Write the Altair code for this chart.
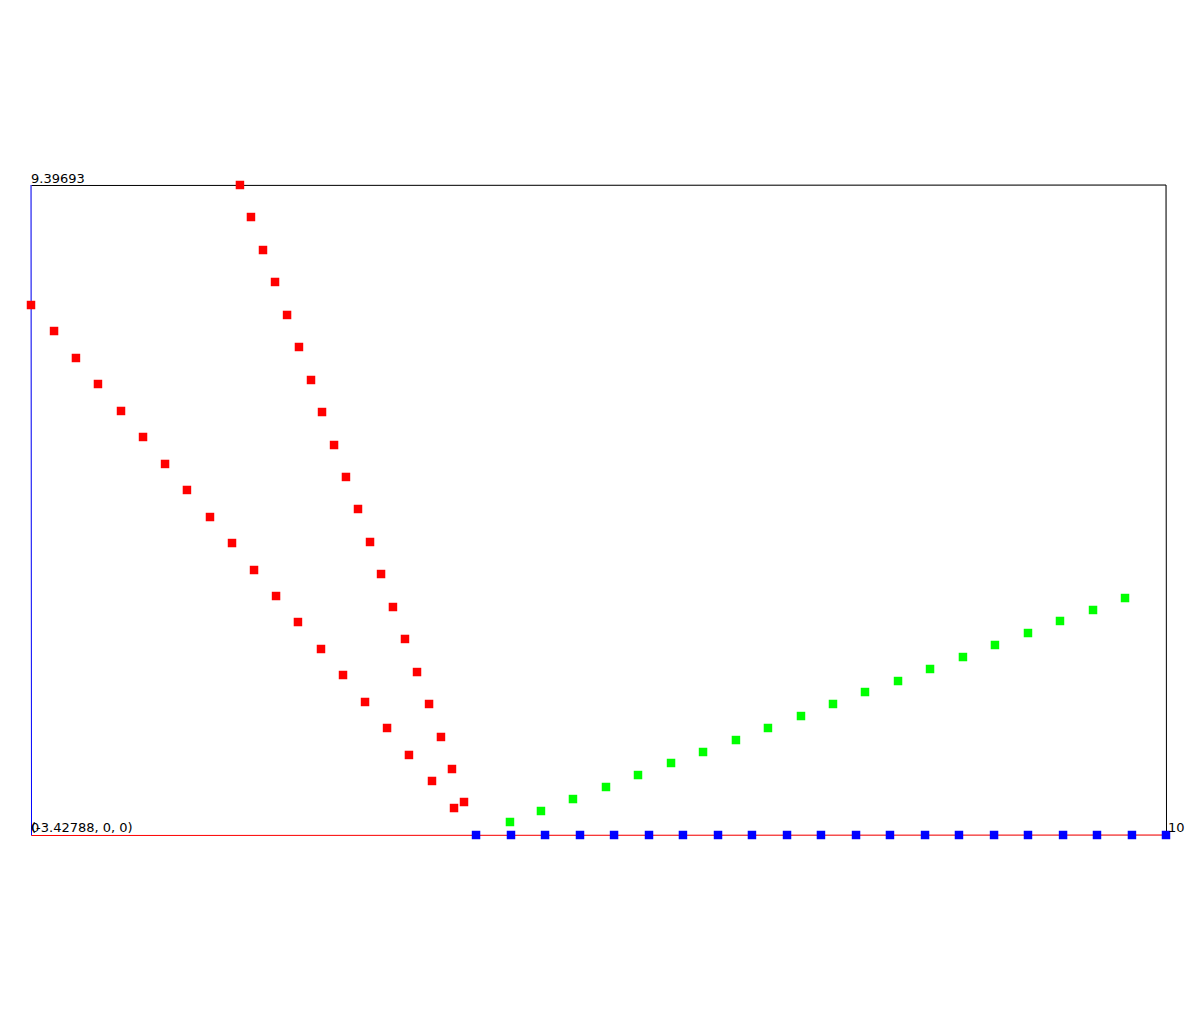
import altair as alt
import pandas as pd

X_MIN, X_MAX = 0.0, 10.0
Y_MIN, Y_MAX = 0.0, 9.39693

red1_x = [0.000, 0.203, 0.396, 0.590, 0.793, 0.987, 1.181, 1.374, 1.577, 1.771,
          1.965, 2.159, 2.352, 2.555, 2.749, 2.943, 3.137, 3.330, 3.533, 3.727]
red1_y = [7.662, 7.286, 6.896, 6.520, 6.130, 5.754, 5.364, 4.988, 4.597, 4.221,
          3.831, 3.455, 3.079, 2.689, 2.313, 1.923, 1.547, 1.157, 0.781, 0.390]

red2_x = [1.841, 1.938, 2.044, 2.150, 2.256, 2.361, 2.467, 2.564, 2.670, 2.775,
          2.881, 2.987, 3.084, 3.189, 3.295, 3.401, 3.507, 3.612, 3.709, 3.815]
red2_y = [9.397, 8.934, 8.457, 7.995, 7.518, 7.055, 6.578, 6.115, 5.638, 5.176,
          4.713, 4.236, 3.773, 3.296, 2.834, 2.356, 1.894, 1.417, 0.954, 0.477]

green_x = [4.220, 4.493, 4.775, 5.066, 5.348, 5.639, 5.921, 6.211, 6.493, 6.784,
           7.066, 7.348, 7.639, 7.921, 8.211, 8.493, 8.784, 9.066, 9.357, 9.639]
green_y = [0.188, 0.347, 0.520, 0.694, 0.867, 1.041, 1.200, 1.373, 1.547, 1.720,
           1.894, 2.067, 2.226, 2.400, 2.573, 2.747, 2.920, 3.094, 3.253, 3.426]

blue_x = [3.921, 4.229, 4.529, 4.837, 5.137, 5.445, 5.744, 6.053, 6.352, 6.661,
          6.960, 7.269, 7.568, 7.877, 8.176, 8.485, 8.784, 9.093, 9.392, 9.700, 10.0]
blue_y = [0.0] * 21

labels = ["9.39693", "0", "(-3.42788, 0, 0)", "10"]
label_x = [X_MIN, X_MIN, X_MIN, X_MAX]
label_y = [Y_MAX, Y_MIN, Y_MIN, Y_MIN]
label_dx = [0, 0, 0, 2]

rows = []
for xs, ys, s in [(red1_x, red1_y, "red1"), (red2_x, red2_y, "red2"),
                  (green_x, green_y, "green"), (blue_x, blue_y, "blue")]:
    for a, b in zip(xs, ys):
        rows.append({"x": a, "y": b, "s": s})
pts = pd.DataFrame(rows)

xs = alt.Scale(domain=[X_MIN, X_MAX], nice=False, zero=False)
ys = alt.Scale(domain=[Y_MIN, Y_MAX], nice=False, zero=False)
X = lambda f: alt.X(f, type="quantitative", scale=xs, axis=None)
Y = lambda f: alt.Y(f, type="quantitative", scale=ys, axis=None)

frame = pd.DataFrame([
    {"x": X_MIN, "y": Y_MAX, "x2": X_MAX, "y2": Y_MAX, "c": "black"},
    {"x": X_MAX, "y": Y_MIN, "x2": X_MAX, "y2": Y_MAX, "c": "black"},
    {"x": X_MIN, "y": Y_MIN, "x2": X_MIN, "y2": Y_MAX, "c": "blue"},
    {"x": X_MIN, "y": Y_MIN, "x2": X_MAX, "y2": Y_MIN, "c": "red"},
])
lines = alt.Chart(frame).mark_rule(strokeWidth=1, xOffset=0.5, yOffset=0.5).encode(
    x=X("x"), y=Y("y"), x2="x2", y2="y2",
    color=alt.Color("c:N", scale=None),
)

color_scale = alt.Scale(domain=["red1", "red2", "green", "blue"],
                        range=["#ff0000", "#ff0000", "#00ff00", "#0000ff"])
points = alt.Chart(pts).mark_point(shape="square", filled=True, size=72, opacity=1).encode(
    x=X("x"), y=Y("y"),
    color=alt.Color("s:N", scale=color_scale, legend=None),
)

lab = pd.DataFrame({"t": labels, "x": label_x, "y": label_y, "dx": label_dx})
texts = []
for i in range(len(labels)):
    texts.append(
        alt.Chart(lab.iloc[[i]]).mark_text(
            align="left", baseline="bottom", fontSize=13, font="DejaVu Sans",
            color="black", dx=label_dx[i], dy=1 if i == 0 else 0
        ).encode(x=X("x"), y=Y("y"), text="t:N")
    )

chart = alt.layer(lines, points, *texts).properties(
    width=1135, height=650,
    padding={"left": 23, "top": 177, "right": 20, "bottom": 20},
    autosize=alt.AutoSizeParams(type="none"),
).configure_view(stroke=None).configure(background="white")

chart.save("out.html", embed_options={"renderer": "svg", "actions": False})
